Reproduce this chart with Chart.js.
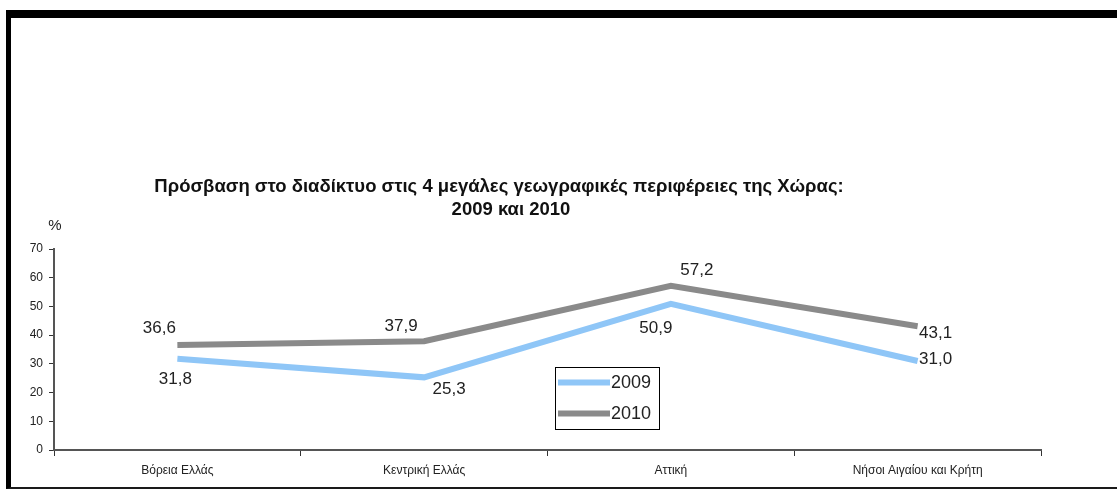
<!DOCTYPE html>
<html>
<head>
<meta charset="utf-8">
<title>Πρόσβαση στο διαδίκτυο</title>
<script src="https://cdn.jsdelivr.net/npm/chart.js@4/dist/chart.umd.min.js"></script>
<style>
  html, body { margin: 0; padding: 0; background: #fff; }
  #wrap { position: relative; width: 1117px; height: 489px; overflow: hidden; }
  #chart { position: absolute; left: 0; top: 0; }
  /* the picture frame: heavy top and left edge, thin bottom rule */
  #frame {
    position: absolute; left: 6px; top: 10px; width: 1120px; height: 469px;
    border-top: 8px solid #000; border-left: 5px solid #000; border-bottom: 2px solid #1a1a1a;
    pointer-events: none;
  }
</style>
</head>
<body>
<div id="wrap">
  <canvas id="chart" width="1117" height="489"></canvas>
  <div id="frame"></div>
</div>
<script>
/* chart data */
var regions = ['Βόρεια Ελλάς', 'Κεντρική Ελλάς', 'Αττική', 'Νήσοι Αιγαίου και Κρήτη'];
var seriesNames = ['2009', '2010'];
var values2009 = [31.8, 25.3, 50.9, 31.0];
var values2010 = [36.6, 37.9, 57.2, 43.1];
var yTicks = [0, 10, 20, 30, 40, 50, 60, 70];

var titleLines = [
  'Πρόσβαση στο διαδίκτυο στις 4 μεγάλες γεωγραφικές περιφέρειες της Χώρας:',
  '2009 και 2010'
];
var unitLabel = '%';

/* where each value label sits relative to its point (dx, dy of the text centre) */
var labelOffsets = [
  [[-2, 21], [25, 12], [-15, 24], [18, -2]],
  [[-18, -17], [-23, -15], [26, -15], [18, 7]]
];

var colors = ['#8FC6F7', '#8A8A8A'];
var lineWidth = 6;
var textColor = '#222';
var fontFamily = '"Liberation Sans", Arial, sans-serif';

var area = { left: 54, right: 1041, top: 249, bottom: 450 };
var titleBox = { x: 499, y1: 187, y2: 210, size: 18.5, shift2: 12 };
var unitPos = { x: 55, y: 226, size: 15 };
var legendBox = { x: 555, y: 367, w: 104, h: 62, sample: 52, size: 18 };

function fmt(v) {
  return v.toFixed(1).replace('.', ',');
}

/* title, unit and the boxed legend drawn straight on the canvas */
var decorations = {
  id: 'decorations',
  afterDraw: function(chart) {
    var ctx = chart.ctx;
    ctx.save();
    ctx.fillStyle = '#111';
    ctx.textAlign = 'center';
    ctx.textBaseline = 'middle';
    ctx.font = 'bold ' + titleBox.size + 'px ' + fontFamily;
    ctx.fillText(titleLines[0], titleBox.x, titleBox.y1);
    ctx.fillText(titleLines[1], titleBox.x + titleBox.shift2, titleBox.y2);

    ctx.font = unitPos.size + 'px ' + fontFamily;
    ctx.fillStyle = textColor;
    ctx.fillText(unitLabel, unitPos.x, unitPos.y);

    // legend
    ctx.fillStyle = '#fff';
    ctx.fillRect(legendBox.x, legendBox.y, legendBox.w, legendBox.h);
    ctx.strokeStyle = '#000';
    ctx.lineWidth = 1;
    ctx.strokeRect(legendBox.x + 0.5, legendBox.y + 0.5, legendBox.w, legendBox.h);
    ctx.font = legendBox.size + 'px ' + fontFamily;
    ctx.textAlign = 'left';
    var rowH = legendBox.h / 2;
    chart.data.datasets.forEach(function(ds, i) {
      var cy = legendBox.y + rowH * i + rowH / 2;
      ctx.strokeStyle = ds.borderColor;
      ctx.lineWidth = ds.borderWidth;
      ctx.beginPath();
      ctx.moveTo(legendBox.x + 3, cy);
      ctx.lineTo(legendBox.x + 3 + legendBox.sample, cy);
      ctx.stroke();
      ctx.fillStyle = textColor;
      ctx.fillText(ds.label, legendBox.x + 4 + legendBox.sample, cy + 1);
    });
    ctx.restore();
  }
};

/* value labels next to each point */
var valueLabels = {
  id: 'valueLabels',
  afterDatasetsDraw: function(chart) {
    var ctx = chart.ctx;
    ctx.save();
    ctx.font = '17px ' + fontFamily;
    ctx.fillStyle = textColor;
    ctx.textAlign = 'center';
    ctx.textBaseline = 'middle';
    chart.data.datasets.forEach(function(ds, d) {
      var meta = chart.getDatasetMeta(d);
      meta.data.forEach(function(pt, i) {
        var off = labelOffsets[d][i];
        ctx.fillText(fmt(ds.data[i]), pt.x + off[0], pt.y + off[1]);
      });
    });
    ctx.restore();
  }
};

var chart = new Chart(document.getElementById('chart'), {
  type: 'line',
  data: {
    labels: regions,
    datasets: [
      { label: seriesNames[0], data: values2009, borderColor: colors[0], backgroundColor: colors[0], borderWidth: lineWidth },
      { label: seriesNames[1], data: values2010, borderColor: colors[1], backgroundColor: colors[1], borderWidth: lineWidth }
    ]
  },
  options: {
    responsive: false,
    animation: false,
    events: [],
    layout: {
      padding: { left: 0, top: area.top, right: 1117 - area.right, bottom: 0 }
    },
    elements: {
      line: { tension: 0, borderJoinStyle: 'miter' },
      point: { radius: 0 }
    },
    plugins: {
      legend: { display: false },
      title: { display: false },
      tooltip: { enabled: false }
    },
    scales: {
      x: {
        offset: true,
        grid: { display: true, drawOnChartArea: false, offset: true, color: '#333', tickLength: 6, lineWidth: 1 },
        border: { color: '#555', width: 2 },
        ticks: { color: textColor, font: { family: fontFamily, size: 12 }, padding: 7, maxRotation: 0 },
        afterFit: function(scale) { scale.height = 489 - area.bottom; }
      },
      y: {
        min: yTicks[0],
        max: yTicks[yTicks.length - 1],
        afterBuildTicks: function(scale) {
          scale.ticks = yTicks.map(function(v) { return { value: v }; });
        },
        grid: { display: true, drawOnChartArea: false, color: '#333', tickLength: 5, lineWidth: 1 },
        border: { color: '#555', width: 2 },
        ticks: { color: textColor, font: { family: fontFamily, size: 12 }, padding: 6 },
        afterFit: function(scale) { scale.width = area.left; }
      }
    }
  },
  plugins: [valueLabels, decorations]
});
</script>
</body>
</html>
